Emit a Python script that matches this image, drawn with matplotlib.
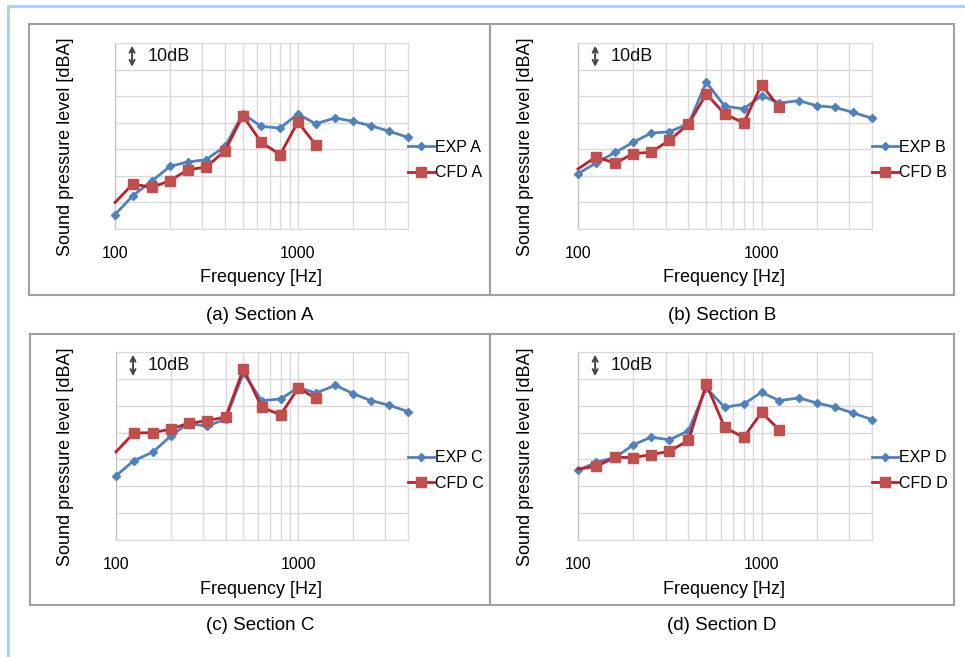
import numpy as np
import matplotlib
matplotlib.use("Agg")
import matplotlib.pyplot as plt
from matplotlib.patches import Rectangle
from matplotlib.ticker import FixedLocator, NullFormatter

plt.rcParams['font.family'] = ['Liberation Sans', 'DejaVu Sans']

# 1/3オクターブ帯域の中心周波数
freq_exp = [100, 125, 160, 200, 250, 315, 400, 500, 630, 800, 1000,
            1250, 1600, 2000, 2500, 3150, 4000]
freq_cfd = [100, 125, 160, 200, 250, 315, 400, 500, 630, 800, 1000, 1250]

# 相対音圧レベル [dB]
exp_a = [5.4, 12.5, 18.2, 23.6, 25.2, 26.1, 31.1, 43.4, 38.6, 38.0, 43.3,
         39.6, 41.8, 40.5, 38.9, 36.8, 34.5]
cfd_a = [10.0, 16.9, 15.7, 18.2, 22.3, 23.3, 29.5, 42.7, 32.6, 28.0, 40.3, 31.7]

exp_b = [20.8, 24.8, 28.9, 32.6, 36.1, 36.6, 39.6, 55.2, 46.2, 45.2, 50.2,
         47.4, 48.3, 46.4, 45.8, 43.9, 41.7]
cfd_b = [22.6, 27.1, 24.8, 28.4, 28.9, 33.4, 39.5, 50.8, 43.3, 39.9, 54.3, 45.8]

exp_c = [23.9, 29.5, 32.8, 38.8, 43.5, 42.3, 45.1, 62.2, 51.9, 52.5, 56.8,
         54.7, 57.6, 54.5, 51.9, 50.2, 47.8]
cfd_c = [32.8, 39.8, 40.0, 41.3, 43.5, 44.4, 45.8, 63.7, 49.4, 46.6, 56.6, 52.7]

exp_d = [25.9, 28.9, 30.8, 35.4, 38.3, 37.3, 40.7, 56.6, 49.4, 50.6, 55.0,
         51.9, 52.9, 51.0, 49.5, 47.3, 44.8]
cfd_d = [26.4, 27.4, 30.8, 30.7, 31.8, 33.0, 37.1, 58.1, 41.9, 38.2, 47.5, 41.0]

sections = ['A', 'B', 'C', 'D']
captions = ['(a) Section A', '(b) Section B', '(c) Section C', '(d) Section D']
exp_data = [exp_a, exp_b, exp_c, exp_d]
cfd_data = [cfd_a, cfd_b, cfd_c, cfd_d]

W, H = 965, 657
fig = plt.figure(figsize=(W / 100, H / 100), dpi=100)


def fx(px):
    return px / W


def fy(py):
    return 1 - py / H


# 外枠（水色）
fig.patches.append(Rectangle((fx(7), 0), fx(3), fy(5), transform=fig.transFigure,
                             facecolor='#a6d1ff', edgecolor='none'))
fig.patches.append(Rectangle((fx(7), fy(8)), 1, 3 / H, transform=fig.transFigure,
                             facecolor='#a6d1ff', edgecolor='none'))

# パネル枠 (x0, y0, x1, y1) と描画領域
boxes = [(29, 24, 490, 295), (490, 24, 954, 295), (30, 334, 490, 605), (490, 334, 954, 605)]
plots = [(115, 43, 408, 229), (578, 43, 872, 229), (116, 352, 408, 540), (578, 352, 872, 540)]

EXP_COLOR = '#4f81bd'
CFD_LINE = '#c0202a'
CFD_MARK = '#c0504d'
GRID = '#d9d9d9'

for i in range(4):
    bx0, by0, bx1, by1 = boxes[i]
    fig.patches.append(Rectangle((fx(bx0), fy(by1)), fx(bx1 - bx0), (by1 - by0) / H,
                                 transform=fig.transFigure, facecolor='none',
                                 edgecolor='#a0a0a0', linewidth=1.5))

    x0, y0, x1, y1 = plots[i]
    ax = fig.add_axes([fx(x0), fy(y1), fx(x1 - x0), (y1 - y0) / H])
    ax.set_xscale('log')
    ax.set_xlim(100, 4000)
    ax.set_ylim(0, 70)
    ax.set_yticks(np.arange(0, 71, 10))
    ax.set_yticklabels([])
    ax.xaxis.set_major_locator(FixedLocator([100, 1000]))
    ax.xaxis.set_minor_locator(FixedLocator([200, 300, 400, 500, 600, 700, 800, 900,
                                             2000, 3000, 4000]))
    ax.xaxis.set_minor_formatter(NullFormatter())
    ax.set_xticklabels(['100', '1000'])
    ax.tick_params(axis='both', which='both', length=0)
    ax.tick_params(axis='x', which='major', labelsize=11.5, pad=12)
    ax.grid(True, which='both', color=GRID, linewidth=1)
    for sp in ax.spines.values():
        sp.set_color(GRID)
    ax.spines['left'].set_color('#bfbfbf')
    ax.set_axisbelow(True)

    s = sections[i]
    ax.plot(freq_exp, exp_data[i], color=EXP_COLOR, linewidth=2, marker='D',
            markersize=4, markerfacecolor=EXP_COLOR, markeredgecolor=EXP_COLOR,
            label='EXP ' + s, clip_on=False, zorder=3)
    ax.plot(freq_cfd, cfd_data[i], color=CFD_LINE, linewidth=2, marker='s',
            markersize=7, markerfacecolor=CFD_MARK, markeredgecolor=CFD_MARK,
            markevery=list(range(1, len(freq_cfd))),
            label='CFD ' + s, clip_on=False, zorder=4)

    # 10dB スケール表示
    ax.annotate('', xy=(124, 70), xytext=(124, 60),
                arrowprops=dict(arrowstyle='<->,head_width=0.18,head_length=0.35',
                                color='#444444', lw=1.4))
    ax.text(150, 65, '10dB', fontsize=13, va='center', ha='left', color='#111111')

    ax.legend(loc='center left', bbox_to_anchor=(1.0, 0.37), frameon=False,
              fontsize=11.5, handlelength=1.6, handletextpad=0.1, borderpad=0,
              borderaxespad=0, labelspacing=0.65)

    # 軸ラベル
    fig.text(fx(bx0 + 36), fy((y0 + y1) / 2 + 11), 'Sound pressure level [dBA]',
             rotation=90, ha='center', va='center', fontsize=13)
    fig.text(fx((x0 + x1) / 2 - 1), fy(y1 + 49), 'Frequency [Hz]',
             ha='center', va='center', fontsize=13)
    # キャプション
    fig.text(fx((bx0 + bx1) / 2), fy(by1 + 21), captions[i],
             ha='center', va='center', fontsize=13.5)

fig.savefig('out.png', dpi=100)
